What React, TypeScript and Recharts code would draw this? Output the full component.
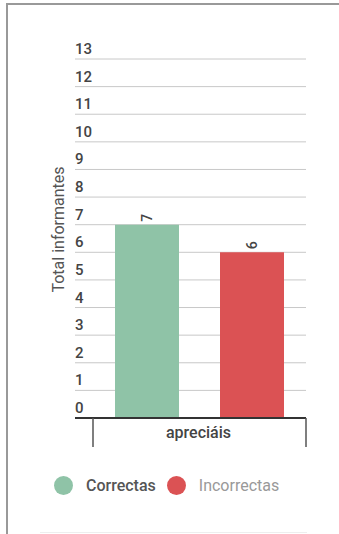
import React from 'react';
import { BarChart, Bar, XAxis, YAxis, CartesianGrid, LabelList } from 'recharts';

const categories = ['apreciáis'];
const correctas = [7];
const incorrectas = [6];
const seriesNames = ['Correctas', 'Incorrectas'];
const yTicks = [0, 1, 2, 3, 4, 5, 6, 7, 8, 9, 10, 11, 12, 13];

const data = categories.map((c, i) => ({ name: c, Correctas: correctas[i], Incorrectas: incorrectas[i] }));

const FONT = 'Roboto, sans-serif';
const GREEN = '#8fc3a7';
const RED = '#db5254';
const seriesColors = [GREEN, RED];

const YTick = (props: any) => {
  const { x, y, payload } = props;
  return (
    <text x={x} y={y - 5} textAnchor="start" fontFamily={FONT} fontSize={15} fontWeight={500} fill="#444">
      {payload.value}
    </text>
  );
};

const XTick = (props: any) => {
  const { x, y, payload } = props;
  const half = payload.offset || 0;
  return (
    <g>
      <line x1={x - half} x2={x - half} y1={y} y2={y + 29} stroke="#555" strokeWidth={1.5} />
      <line x1={x + half} x2={x + half} y1={y} y2={y + 29} stroke="#555" strokeWidth={1.5} />
      <text x={x - 1} y={y + 19.5} textAnchor="middle" fontFamily={FONT} fontSize={16} fontWeight={500} fill="#444">
        {payload.value}
      </text>
    </g>
  );
};

const YLabel = (props: any) => {
  const { viewBox } = props;
  const cx = viewBox.x + viewBox.width - 17;
  const cy = viewBox.y + viewBox.height / 2 - 9;
  return (
    <text x={cx} y={cy} transform={`rotate(-90 ${cx} ${cy})`} textAnchor="middle" dominantBaseline="central" fontFamily={FONT} fontSize={16} fill="#555">
      Total informantes
    </text>
  );
};

const BarLabel = (props: any) => {
  const { x, y, width, value } = props;
  const cx = x + width / 2;
  const cy = y - 7;
  return (
    <text x={cx} y={cy} transform={`rotate(-90 ${cx} ${cy})`} textAnchor="middle" dominantBaseline="central" fontFamily={FONT} fontSize={14} fontWeight={500} fill="#444">
      {value}
    </text>
  );
};

export default function App() {
  return (
    <div>
      <div style={{ position: 'absolute', left: 6, top: 3, width: 400, height: 600, borderTop: '2px solid #999', borderLeft: '2px solid #999', boxSizing: 'border-box' }} />
      <div style={{ position: 'absolute', left: 40, top: 532, width: 267, height: 1, background: '#eee' }} />
      <div style={{ position: 'absolute', left: 0, top: 0 }}>
        <BarChart width={339} height={534} data={data} margin={{ top: 59, right: 33, bottom: 86, left: 45 }} barSize={64} barGap={41}>
          <CartesianGrid horizontal vertical={false} stroke="#c8c8c8" strokeWidth={1} />
          <XAxis dataKey="name" type="category" height={30} padding={{ left: 18, right: 0 }} axisLine={{ stroke: '#333', strokeWidth: 2 }} tickLine={false} tickSize={0} tickMargin={0} tick={<XTick />} interval={0} />
          <YAxis type="number" domain={[0, 13]} ticks={yTicks} width={30} axisLine={false} tickLine={false} tickSize={0} tickMargin={0} tick={<YTick />} interval={0} label={<YLabel />} />
          <Bar dataKey="Correctas" fill={GREEN} isAnimationActive={false}>
            <LabelList dataKey="Correctas" content={<BarLabel />} />
          </Bar>
          <Bar dataKey="Incorrectas" fill={RED} isAnimationActive={false}>
            <LabelList dataKey="Incorrectas" content={<BarLabel />} />
          </Bar>
        </BarChart>
      </div>
      <div style={{ position: 'absolute', top: 476, left: 54, display: 'flex', alignItems: 'center', fontFamily: FONT, fontSize: 16 }}>
        {seriesNames.map((n, i) => (
          <div key={n} style={{ display: 'flex', alignItems: 'center', marginRight: 11 }}>
            <span style={{ display: 'inline-block', width: 19, height: 19, borderRadius: '50%', background: seriesColors[i], marginRight: 13 }} />
            <span style={{ color: i === 0 ? '#555' : '#999', fontWeight: i === 0 ? 500 : 400 }}>{n}</span>
          </div>
        ))}
      </div>
    </div>
  );
}
